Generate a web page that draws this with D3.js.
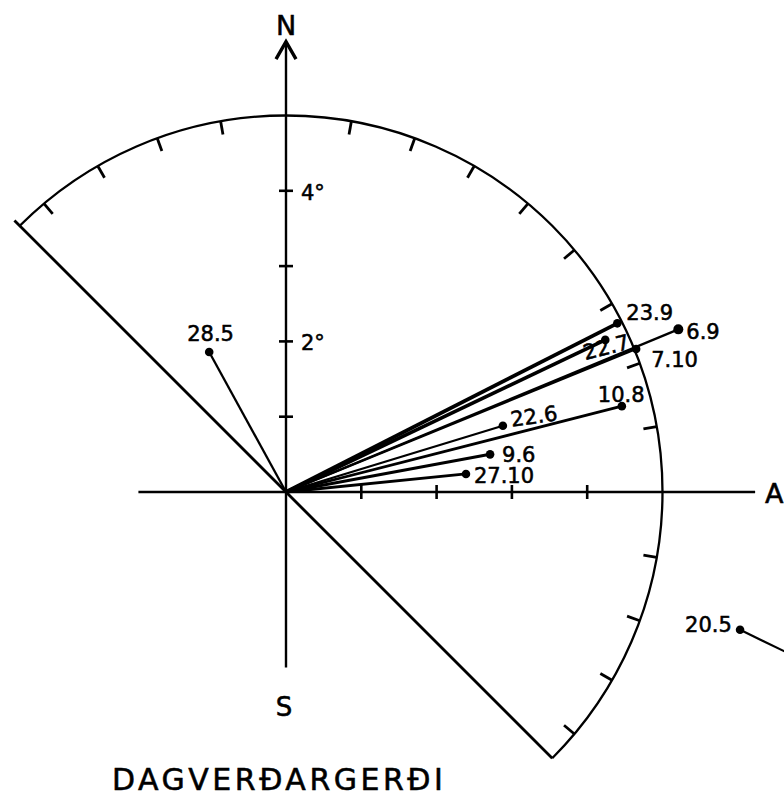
<!DOCTYPE html>
<html>
<head>
<meta charset="utf-8">
<script src="https://cdn.jsdelivr.net/npm/d3@7/dist/d3.min.js"></script>
<style>
  html, body { margin: 0; padding: 0; background: #fff; }
  svg { display: block; }
  text { font-family: "DejaVu Sans", sans-serif; fill: #000; stroke: #000; stroke-width: 0.55px; }
</style>
</head>
<body>
<script>
// Tilt vectors (degrees): east component and north component of each survey
const labels = ["28.5", "23.9", "22.7", "6.9", "7.10", "10.8", "22.6", "9.6", "27.10", "20.5"];
const east   = [-1.02, 4.40, 4.24, 5.21, 4.65, 4.46, 2.88, 2.71, 2.39, 6.03];
const north  = [ 1.86, 2.24, 2.02, 2.16, 1.90, 1.14, 0.88, 0.50, 0.24, -1.83];
// Surveys that lie off the diagram get a leader instead of a vector from the origin
const offScale = ["20.5"];

// Axis graduation (degrees) and labelled values
const axisTicks = [1, 2, 3, 4];
const axisTickLabels = ["2°", "4°"];
const axisTickLabelValues = [2, 4];
// Outer ring: 5° radius, bearings covered (clockwise from north) and tick bearings
const ringRadius = 5;
const ringFrom = -45, ringTo = 135;
const ringTicks = [-40, -30, -20, -10, 10, 20, 30, 40, 50, 60, 70, 80, 100, 110, 120, 130];

const title = "DAGVERÐARGERÐI";

const W = 784, H = 796;
const cx = 286, cy = 492, k = 75.3;

const x = d3.scaleLinear().domain([0, 1]).range([cx, cx + k]);
const y = d3.scaleLinear().domain([0, 1]).range([cy, cy - k]);
const r = d3.scaleLinear().domain([0, 1]).range([0, k]);

const svg = d3.select("body").append("svg")
  .attr("width", W).attr("height", H);

const data = labels.map((l, i) => ({ label: l, e: east[i], n: north[i] }));

// Label placement relative to each point (px) and rotation
const labelPos = {
  "28.5":  { dx: -22, dy: -11, rot: 0 },
  "23.9":  { dx: 9,   dy: -3,  rot: 0 },
  "22.7":  { dx: -20, dy: 20,  rot: -14 },
  "6.9":   { dx: 8,   dy: 10,  rot: 0 },
  "7.10":  { dx: 15,  dy: 18,  rot: 0 },
  "10.8":  { dx: -24, dy: -4,  rot: 0 },
  "22.6":  { dx: 9,   dy: 1,   rot: -8 },
  "9.6":   { dx: 12,  dy: 8,   rot: 0 },
  "27.10": { dx: 8,   dy: 9,   rot: 0 },
  "20.5":  { dx: -55, dy: 2,   rot: 0 }
};
const lineWidth = { "23.9": 3.8, "22.7": 3.6, "10.8": 2.8, "9.6": 3, "27.10": 2.8 };

const g = svg.append("g");

// Outer ring (arc of 5° radius)
const arcGen = d3.arc()
  .innerRadius(r(ringRadius)).outerRadius(r(ringRadius))
  .startAngle(ringFrom * Math.PI / 180).endAngle(ringTo * Math.PI / 180);
g.append("path")
  .attr("transform", `translate(${cx},${cy})`)
  .attr("d", arcGen())
  .attr("fill", "none").attr("stroke", "#000").attr("stroke-width", 2.3);

// Ring ticks, pointing inward
const pol = (b, rr) => [cx + r(rr) * Math.sin(b * Math.PI / 180), cy - r(rr) * Math.cos(b * Math.PI / 180)];
g.selectAll(".rtick").data(ringTicks).join("line")
  .attr("x1", d => pol(d, ringRadius)[0]).attr("y1", d => pol(d, ringRadius)[1])
  .attr("x2", d => pol(d, ringRadius - 0.18)[0]).attr("y2", d => pol(d, ringRadius - 0.18)[1])
  .attr("stroke", "#000").attr("stroke-width", 2.8);

// Boundary radii of the sector
[ringFrom, ringTo].forEach(b => {
  const p = pol(b, ringRadius + (b === ringFrom ? 0.1 : 0));
  g.append("line").attr("x1", cx).attr("y1", cy).attr("x2", p[0]).attr("y2", p[1])
    .attr("stroke", "#000").attr("stroke-width", 2.8);
});

// North-south axis with arrow
g.append("line")
  .attr("x1", x(0)).attr("x2", x(0)).attr("y1", y(-2.33)).attr("y2", y(5.97))
  .attr("stroke", "#000").attr("stroke-width", 2.4);
g.append("path")
  .attr("d", `M${x(0) - 10},${y(5.75)} L${x(0)},${y(5.98)} L${x(0) + 10},${y(5.75)}`)
  .attr("fill", "none").attr("stroke", "#000").attr("stroke-width", 3.4)
  .attr("stroke-linejoin", "miter");
// East axis
g.append("line")
  .attr("x1", x(-1.96)).attr("x2", x(6.23)).attr("y1", y(0)).attr("y2", y(0))
  .attr("stroke", "#000").attr("stroke-width", 2.4);

// Axis graduations
g.selectAll(".ntick").data(axisTicks).join("line")
  .attr("x1", x(0) - 7).attr("x2", x(0) + 7).attr("y1", d => y(d)).attr("y2", d => y(d))
  .attr("stroke", "#000").attr("stroke-width", 2.6);
g.selectAll(".etick").data(axisTicks).join("line")
  .attr("x1", d => x(d)).attr("x2", d => x(d)).attr("y1", y(0) - 7).attr("y2", y(0) + 7)
  .attr("stroke", "#000").attr("stroke-width", 2.6);
g.selectAll(".nlab").data(axisTickLabelValues).join("text")
  .attr("x", x(0) + 15).attr("y", d => y(d) + 9)
  .attr("font-size", 21)
  .text((d, i) => axisTickLabels[i]);

// Compass letters
g.append("text").attr("x", x(0)).attr("y", 35).attr("text-anchor", "middle")
  .attr("font-size", 27).text("N");
g.append("text").attr("x", x(0) - 2).attr("y", 716).attr("text-anchor", "middle")
  .attr("font-size", 26).text("S");
g.append("text").attr("x", 765).attr("y", 503)
  .attr("font-size", 27).text("A");

// Vectors from the origin
const inside = data.filter(d => !offScale.includes(d.label));
g.selectAll(".vec").data(inside).join("line")
  .attr("x1", x(0)).attr("y1", y(0))
  .attr("x2", d => x(d.e)).attr("y2", d => y(d.n))
  .attr("stroke", "#000")
  .attr("stroke-width", d => lineWidth[d.label] || 2.3);

// Leader for the off-diagram survey
data.filter(d => offScale.includes(d.label)).forEach(d => {
  g.append("line")
    .attr("x1", x(d.e)).attr("y1", y(d.n))
    .attr("x2", x(d.e) + 70).attr("y2", y(d.n) + 34)
    .attr("stroke", "#000").attr("stroke-width", 2.2);
});

// End points
g.selectAll(".pt").data(data).join("circle")
  .attr("cx", d => x(d.e)).attr("cy", d => y(d.n))
  .attr("r", d => d.label === "6.9" ? 5 : 4.3)
  .attr("fill", "#000");

// Date labels
g.selectAll(".lab").data(data).join("text")
  .attr("transform", d => {
    const p = labelPos[d.label];
    return `translate(${x(d.e) + p.dx},${y(d.n) + p.dy}) rotate(${p.rot})`;
  })
  .attr("font-size", 21)
  .text(d => d.label);

// Site name
g.append("text").attr("x", 112).attr("y", 790)
  .attr("font-size", 30).attr("letter-spacing", 3.5)
  .text(title);
</script>
</body>
</html>
